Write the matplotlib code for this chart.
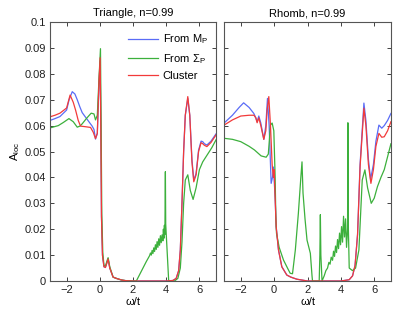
# -*- coding: utf-8 -*-

import numpy as np
import matplotlib
matplotlib.use("Agg")
import matplotlib.pyplot as plt

plt.rcParams["font.family"] = ["Liberation Sans", "DejaVu Sans"]
plt.rcParams["mathtext.fontset"] = "custom"
plt.rcParams["mathtext.rm"] = "Liberation Sans"
plt.rcParams["mathtext.it"] = "Liberation Sans"
plt.rcParams["mathtext.default"] = "regular"

titles = ["Triangle, n=0.99", "Rhomb, n=0.99"]
labels = ["From M$_P$", "From Σ$_P$", "Cluster"]
colors = ["#5a6cf6", "#3cb03c", "#f23a3a"]

# ---- Triangle ----
tri_m_x = [-3.0, -2.7, -2.4, -2.0, -1.85, -1.66, -1.5, -1.36, -1.2, -1.06, -0.9, -0.76, -0.6, -0.46,
           -0.35, -0.26, -0.15, -0.05, 0.02, 0.06, 0.1, 0.16, 0.25, 0.34, 0.42, 0.5, 0.6, 0.8, 1.0,
           1.3, 1.6, 2.0, 3.0, 4.0, 4.4, 4.6, 4.75, 4.85, 4.95, 5.05, 5.15, 5.3, 5.42, 5.55, 5.66,
           5.8, 5.95, 6.1, 6.2, 6.3, 6.45, 6.7, 7.0]
tri_m_y = [0.0620, 0.0627, 0.0635, 0.0660, 0.0700, 0.0731, 0.0722, 0.0700, 0.0672, 0.0650, 0.0636,
           0.0624, 0.0610, 0.0598, 0.0585, 0.0548, 0.0570, 0.0760, 0.0850, 0.0600, 0.0250, 0.0100,
           0.0055, 0.0054, 0.0070, 0.0086, 0.0050, 0.0015, 0.0010, 0.0004, 0.0001, 0.0, 0.0, 0.0,
           0.0002, 0.0010, 0.0040, 0.0120, 0.0300, 0.0500, 0.0640, 0.0705, 0.0640, 0.0470, 0.0390,
           0.0415, 0.0505, 0.0540, 0.0538, 0.0530, 0.0525, 0.0540, 0.0568]

tri_s_x = [-3.0, -2.5, -2.2, -1.86, -1.6, -1.36, -1.2, -1.06, -0.8, -0.52, -0.35, -0.26, -0.15,
           -0.05, 0.04, 0.08, 0.12, 0.18, 0.25, 0.34, 0.42, 0.5, 0.6, 0.8, 1.0, 1.3, 1.6, 2.0, 2.2,
           2.4, 2.6, 2.8, 3.0, 3.05, 3.1, 3.15, 3.2, 3.25, 3.3, 3.35, 3.4, 3.45, 3.5, 3.55, 3.6, 3.65,
           3.7, 3.75, 3.8, 3.83, 3.86, 3.89, 3.92, 3.95, 3.97, 4.15, 4.5, 4.7, 4.85, 4.95, 5.05, 5.15,
           5.3, 5.45, 5.62, 5.8, 6.0, 6.2, 6.5, 6.75, 7.0]
tri_s_y = [0.0591, 0.0600, 0.0612, 0.0627, 0.0615, 0.0594, 0.0598, 0.0607, 0.0628, 0.0648, 0.0645,
           0.0622, 0.0640, 0.0780, 0.0897, 0.0600, 0.0260, 0.0110, 0.0060, 0.0058, 0.0075, 0.0090,
           0.0055, 0.0015, 0.0010, 0.0004, 0.0001, 0.0, 0.0, 0.0025, 0.0050, 0.0075, 0.0098, 0.0108,
           0.0100, 0.0118, 0.0106, 0.0128, 0.0114, 0.0140, 0.0122, 0.0152, 0.0130, 0.0163, 0.0138,
           0.0175, 0.0148, 0.0178, 0.0155, 0.0200, 0.0165, 0.0215, 0.0180, 0.0422, 0.0220, 0.0,
           0.0, 0.0010, 0.0050, 0.0150, 0.0300, 0.0390, 0.0410, 0.0350, 0.0315, 0.0360, 0.0430,
           0.0460, 0.0490, 0.0515, 0.0545]

tri_c_x = [-3.0, -2.7, -2.4, -2.0, -1.79, -1.6, -1.46, -1.3, -1.16, -0.9, -0.56, -0.4, -0.26,
           -0.15, -0.05, 0.02, 0.06, 0.1, 0.16, 0.25, 0.34, 0.42, 0.5, 0.6, 0.8, 1.0, 1.3, 1.6,
           2.0, 3.0, 4.0, 4.4, 4.6, 4.75, 4.85, 4.95, 5.05, 5.15, 5.3, 5.42, 5.55, 5.66, 5.8,
           5.95, 6.1, 6.2, 6.3, 6.45, 6.7, 7.0]
tri_c_y = [0.0634, 0.0640, 0.0648, 0.0668, 0.0718, 0.0690, 0.0660, 0.0620, 0.0598, 0.0596,
           0.0593, 0.0575, 0.0550, 0.0570, 0.0770, 0.0862, 0.0600, 0.0250, 0.0100, 0.0055, 0.0052,
           0.0068, 0.0085, 0.0050, 0.0015, 0.0010, 0.0004, 0.0001, 0.0, 0.0, 0.0, 0.0002, 0.0010,
           0.0040, 0.0120, 0.0300, 0.0500, 0.0640, 0.0712, 0.0640, 0.0460, 0.0383, 0.0410,
           0.0500, 0.0534, 0.0530, 0.0524, 0.0519, 0.0535, 0.0564]

# ---- Rhomb ----
rho_m_x = [-3.0, -2.5, -2.1, -1.83, -1.5, -1.22, -1.1, -1.02, -0.92, -0.8, -0.62, -0.5, -0.4,
           -0.3, -0.18, -0.1, -0.04, 0.06, 0.12, 0.26, 0.46, 0.76, 1.0, 1.36, 2.0, 3.0, 4.0, 4.5,
           4.7, 4.85, 5.0, 5.15, 5.38, 5.5, 5.65, 5.78, 5.95, 6.1, 6.28, 6.45, 6.6, 6.8, 7.0]
rho_m_y = [0.0610, 0.0640, 0.0670, 0.0688, 0.0670, 0.0647, 0.0630, 0.0615, 0.0637, 0.0610,
           0.0547, 0.0600, 0.0705, 0.0600, 0.0377, 0.0400, 0.0440, 0.0320, 0.0210, 0.0120,
           0.0055, 0.0023, 0.0015, 0.0007, 0.0, 0.0, 0.0, 0.0005, 0.0020, 0.0060, 0.0180, 0.0450,
           0.0687, 0.0620, 0.0470, 0.0393, 0.0450, 0.0540, 0.0602, 0.0590, 0.0600, 0.0620, 0.0647]

rho_s_x = [-3.0, -2.5, -2.0, -1.5, -1.18, -0.78, -0.48, -0.35, -0.22, -0.12, -0.02, 0.06, 0.1,
           0.14, 0.3, 0.56, 0.8, 0.96, 1.1, 1.27, 1.45, 1.6, 1.67, 1.73, 1.85, 1.97, 2.17, 2.27,
           2.3, 2.7, 2.74, 2.77, 2.8, 2.87, 3.0, 3.1, 3.2, 3.28, 3.35, 3.42, 3.5, 3.56, 3.62, 3.68,
           3.74, 3.8, 3.86, 3.92, 3.98, 4.04, 4.1, 4.16, 4.22, 4.28, 4.34, 4.4, 4.42, 4.45, 4.5,
           4.7, 4.88, 5.08, 5.28, 5.44, 5.6, 5.82, 6.0, 6.19, 6.4, 6.6, 6.8, 7.0]
rho_s_y = [0.0551, 0.0547, 0.0538, 0.0520, 0.0506, 0.0483, 0.0478, 0.0490, 0.0602, 0.0610,
           0.0580, 0.0400, 0.0250, 0.0185, 0.0130, 0.0081, 0.0050, 0.0030, 0.0028, 0.0120,
           0.0260, 0.0400, 0.0460, 0.0340, 0.0240, 0.0158, 0.0107, 0.0020, 0.0, 0.0, 0.0100,
           0.0256, 0.0100, 0.0, 0.0020, 0.0040, 0.0050, 0.0072, 0.0065, 0.0092, 0.0080, 0.0115,
           0.0095, 0.0135, 0.0110, 0.0160, 0.0125, 0.0185, 0.0140, 0.0210, 0.0150, 0.0250,
           0.0170, 0.0240, 0.0130, 0.0200, 0.0611, 0.0200, 0.0050, 0.0040, 0.0050, 0.0120,
           0.0390, 0.0429, 0.0360, 0.0300, 0.0320, 0.0364, 0.0400, 0.0430, 0.0480, 0.0530]

rho_c_x = [-3.0, -2.5, -2.0, -1.5, -1.21, -1.1, -1.02, -0.92, -0.8, -0.62, -0.5, -0.42, -0.32,
           -0.22, -0.12, -0.05, 0.0, 0.06, 0.12, 0.26, 0.46, 0.76, 1.0, 1.36, 2.0, 3.0, 4.0, 4.5,
           4.7, 4.85, 5.0, 5.15, 5.38, 5.5, 5.65, 5.8, 5.95, 6.1, 6.28, 6.45, 6.6, 6.8, 7.0]
rho_c_y = [0.0602, 0.0622, 0.0637, 0.0640, 0.0640, 0.0630, 0.0611, 0.0630, 0.0600, 0.0547,
           0.0580, 0.0660, 0.0712, 0.0600, 0.0450, 0.0400, 0.0430, 0.0320, 0.0210, 0.0120,
           0.0055, 0.0023, 0.0015, 0.0007, 0.0, 0.0, 0.0, 0.0005, 0.0020, 0.0060, 0.0180, 0.0440,
           0.0667, 0.0600, 0.0450, 0.0377, 0.0430, 0.0520, 0.0570, 0.0555, 0.0557, 0.0580, 0.0615]

yticks = [0, 0.01, 0.02, 0.03, 0.04, 0.05, 0.06, 0.07, 0.08, 0.09, 0.1]
yticklabels = ["0", "0.01", "0.02", "0.03", "0.04", "0.05", "0.06", "0.07", "0.08", "0.09", "0.1"]
xticks = [-2, 0, 2, 4, 6]
xticklabels = ["\u22122", "0", "2", "4", "6"]


def DrawPanel(ax, title, curves, show_y):
    for (x, y), c in zip(curves, colors):
        ax.plot(x, y, color=c, lw=0.9)
    ax.set_xlim(-3, 7)
    ax.set_ylim(0, 0.1)
    ax.set_xticks(xticks)
    ax.set_xticklabels(xticklabels)
    ax.set_yticks(yticks)
    if show_y:
        ax.set_yticklabels(yticklabels)
        ax.set_ylabel("A$_{loc}$", fontsize=8, labelpad=2)
    else:
        ax.set_yticklabels([])
    ax.set_xlabel("ω/t", fontsize=8, labelpad=1)
    ax.set_title(title, fontsize=8, pad=4)
    ax.tick_params(direction="in", top=True, right=True, length=3, width=0.6,
                   labelsize=8, colors="#222222", pad=3)
    for s in ax.spines.values():
        s.set_color("#555555")
        s.set_linewidth(0.8)


fig = plt.figure(figsize=(4.15, 3.13), dpi=100)
ax1 = fig.add_axes([0.1205, 0.1022, 0.400, 0.8275])
ax2 = fig.add_axes([0.5400, 0.1022, 0.402, 0.8275])

DrawPanel(ax1, titles[0], [(tri_m_x, tri_m_y), (tri_s_x, tri_s_y), (tri_c_x, tri_c_y)], True)
DrawPanel(ax2, titles[1], [(rho_m_x, rho_m_y), (rho_s_x, rho_s_y), (rho_c_x, rho_c_y)], False)

ax1.legend(ax1.lines, labels, loc="upper right", frameon=False, fontsize=8,
           handlelength=2.7, handletextpad=0.4, labelspacing=0.5,
           bbox_to_anchor=(0.99, 0.985), borderaxespad=0.2)

fig.savefig("out.png", dpi=100)
